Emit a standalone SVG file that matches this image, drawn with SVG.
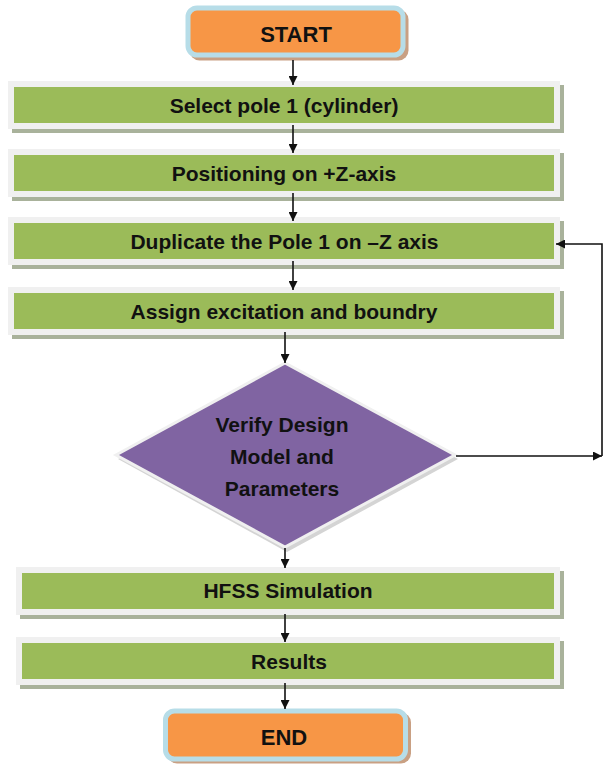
<svg xmlns="http://www.w3.org/2000/svg" width="609" height="766" viewBox="0 0 609 766">
<defs>
<style>
.frame{fill:#f0f0f0}
.shadow{fill:#a9b29b}
.green{fill:#9bbb59}
.term{fill:#f79646;stroke:#b7dde8;stroke-width:5}
.termsh{fill:#c9a083}
.lbl{font-family:"Liberation Sans",Arial,sans-serif;font-weight:bold;font-size:21px;fill:#111;text-anchor:middle}
.big{font-size:22px}
.conn{fill:none;stroke:#111;stroke-width:1.6}
</style>
<marker id="ah" viewBox="0 0 10 10" refX="10" refY="5" markerWidth="9" markerHeight="9" markerUnits="userSpaceOnUse" orient="auto">
<path d="M0,0 L10,5 L0,10 Z" fill="#111"/>
</marker>
</defs>
<rect width="609" height="766" fill="#ffffff"/>

<g id="start">
<rect class="termsh" x="189.5" y="9.5" width="219" height="51" rx="10"/>
<rect class="term" x="188" y="8" width="215" height="47" rx="9"/>
<text class="lbl big" x="296" y="42">START</text>
</g>

<g id="box1">
<rect class="shadow" x="12" y="85" width="552" height="48"/>
<rect class="frame" x="8" y="81" width="552" height="48"/>
<rect class="green" x="14" y="87" width="540" height="36"/>
<text class="lbl" x="284" y="113">Select pole 1 (cylinder)</text>
</g>

<g id="box2">
<rect class="shadow" x="12" y="153" width="552" height="48"/>
<rect class="frame" x="8" y="149" width="552" height="48"/>
<rect class="green" x="14" y="155" width="540" height="36"/>
<text class="lbl" x="284" y="181">Positioning on +Z-axis</text>
</g>

<g id="box3">
<rect class="shadow" x="12" y="221" width="552" height="48"/>
<rect class="frame" x="8" y="217" width="552" height="48"/>
<rect class="green" x="14" y="223" width="540" height="36"/>
<text class="lbl" x="284.5" y="249">Duplicate the Pole 1 on –Z axis</text>
</g>

<g id="box4">
<rect class="shadow" x="12" y="291" width="552" height="48"/>
<rect class="frame" x="8" y="287" width="552" height="48"/>
<rect class="green" x="14" y="293" width="540" height="36"/>
<text class="lbl" x="284" y="319">Assign excitation and boundry</text>
</g>

<g id="decision">
<polygon points="287,366 118,459 287,552 458,459" fill="#d4d4d4"/>
<polygon points="285,363 116,455 285,547 455,455" fill="#8064a2" stroke="#f0f0f0" stroke-width="3"/>
<text class="lbl" x="282" y="432">Verify Design</text>
<text class="lbl" x="282" y="464">Model and</text>
<text class="lbl" x="282" y="496">Parameters</text>
</g>

<g id="box5">
<rect class="shadow" x="20" y="571" width="544" height="48"/>
<rect class="frame" x="16" y="567" width="544" height="48"/>
<rect class="green" x="22" y="573" width="532" height="36"/>
<text class="lbl" x="288" y="598">HFSS Simulation</text>
</g>

<g id="box6">
<rect class="shadow" x="20" y="641" width="544" height="48"/>
<rect class="frame" x="16" y="637" width="544" height="48"/>
<rect class="green" x="22" y="643" width="532" height="36"/>
<text class="lbl" x="289" y="669">Results</text>
</g>

<g id="end">
<rect class="termsh" x="167" y="712.5" width="244" height="51" rx="10"/>
<rect class="term" x="165.5" y="711" width="240" height="48" rx="9"/>
<text class="lbl big" x="284" y="745">END</text>
</g>

<g id="connectors">
<path class="conn" d="M293,60 V85" marker-end="url(#ah)"/>
<path class="conn" d="M293,125 V153" marker-end="url(#ah)"/>
<path class="conn" d="M293,193 V221" marker-end="url(#ah)"/>
<path class="conn" d="M293,261 V290" marker-end="url(#ah)"/>
<path class="conn" d="M285,332 V363" marker-end="url(#ah)"/>
<path class="conn" d="M285,548 V568" marker-end="url(#ah)"/>
<path class="conn" d="M285,614 V642" marker-end="url(#ah)"/>
<path class="conn" d="M285,683 V709" marker-end="url(#ah)"/>
<path class="conn" d="M456,456 H602" marker-end="url(#ah)"/>
<path class="conn" d="M602,456 V244 H556" marker-end="url(#ah)"/>
</g>
</svg>
